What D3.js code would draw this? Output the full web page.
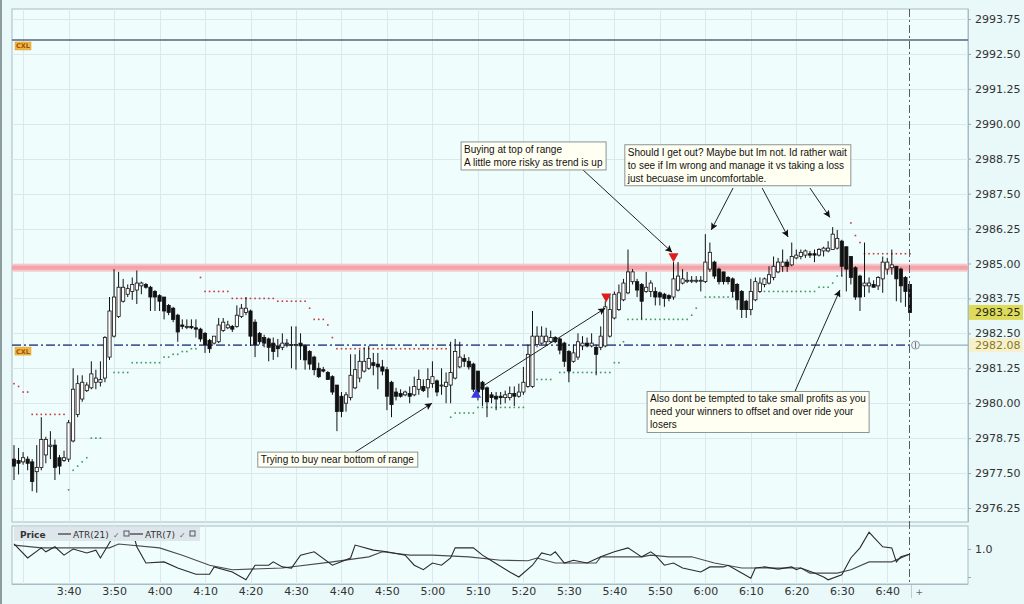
<!DOCTYPE html>
<html>
<head>
<meta charset="utf-8">
<script src="https://cdn.jsdelivr.net/npm/d3@7"></script>
<style>
  body { margin: 0; background: #e9f8f8; }
  svg { display: block; font-family: "DejaVu Sans", sans-serif; }
  .note text { font-family: "Liberation Sans", Arial, sans-serif; font-size: 10px; fill: #111; }
  .axis text { font-size: 11px; fill: #333; font-family: "DejaVu Sans", sans-serif; }
</style>
</head>
<body>
<svg id="chart" width="1024" height="604"></svg>
<script>
// one-minute bars starting 3:28
const startTime = new Date(2019, 4, 1, 3, 28);

// [open, high, low, close]
const candles = [
  [2978.0,2978.5,2977.25,2977.75],[2977.95,2978.4,2977.45,2977.85],[2977.9,2978.25,2977.8,2978.05],[2978.0,2978.1,2977.6,2977.85],
  [2977.9,2978.0,2976.85,2977.2],[2977.55,2978.5,2976.8,2977.7],[2977.7,2979.5,2977.6,2978.7],[2978.15,2978.8,2977.85,2978.7],
  [2978.45,2979.0,2978.0,2978.5],[2978.5,2978.7,2977.25,2977.7],[2978.05,2978.15,2977.45,2977.75],[2977.95,2978.3,2977.9,2978.05],
  [2978.0,2979.4,2977.9,2979.3],[2978.65,2981.25,2978.6,2980.5],[2979.6,2981.0,2979.5,2980.7],[2980.15,2981.0,2980.05,2980.75],
  [2980.45,2980.75,2980.4,2980.65],[2980.55,2981.5,2980.5,2981.05],[2980.75,2981.2,2980.5,2980.9],[2980.75,2981.5,2980.6,2980.85],
  [2980.9,2982.4,2980.75,2982.35],[2981.65,2983.8,2981.55,2983.3],[2982.4,2984.8,2982.35,2983.8],[2983.1,2984.7,2983.05,2984.15],
  [2983.65,2984.45,2983.6,2984.15],[2983.9,2984.25,2983.8,2984.1],[2984.0,2984.5,2983.7,2984.25],[2984.05,2984.75,2983.55,2984.3],
  [2984.2,2984.35,2983.9,2984.3],[2984.25,2984.3,2984.1,2984.15],[2984.15,2984.2,2983.3,2983.8],[2984.0,2984.05,2983.3,2983.8],
  [2983.85,2983.9,2983.3,2983.65],[2983.8,2983.8,2983.0,2983.3],[2983.5,2983.55,2983.15,2983.25],[2983.4,2983.45,2982.9,2983.0],
  [2983.15,2983.2,2982.2,2982.55],[2982.8,2983.0,2982.65,2982.75],[2982.75,2983.0,2982.65,2982.75],[2982.75,2983.0,2982.65,2982.7],
  [2982.7,2983.0,2982.35,2982.65],[2982.65,2982.7,2982.2,2982.3],[2982.5,2982.55,2981.8,2982.1],[2982.25,2982.3,2981.8,2981.95],
  [2982.15,2982.4,2982.1,2982.4],[2982.2,2983.05,2982.15,2982.8],[2982.6,2983.05,2982.55,2982.9],[2982.7,2982.95,2982.65,2982.8],
  [2982.75,2982.8,2982.55,2982.65],[2982.75,2983.5,2982.7,2983.15],[2983.1,2983.55,2983.05,2983.4],[2983.25,2983.8,2983.15,2983.4],
  [2983.3,2983.35,2982.05,2982.4],[2982.9,2983.0,2981.65,2982.1],[2982.5,2982.55,2982.1,2982.2],[2982.35,2982.45,2982.0,2982.15],
  [2982.3,2982.35,2981.5,2982.0],[2982.15,2982.35,2981.55,2981.85],[2982.05,2982.3,2981.65,2981.95],[2982.0,2982.5,2981.9,2982.15],
  [2982.15,2982.3,2982.0,2982.15],[2982.1,2982.75,2981.25,2982.1],[2982.1,2982.75,2981.2,2982.1],[2982.15,2982.5,2981.55,2982.05],
  [2982.05,2982.1,2981.2,2981.55],[2981.85,2981.9,2981.2,2981.4],[2981.65,2981.7,2981.0,2981.2],[2981.25,2981.45,2980.9,2980.95],
  [2981.2,2981.3,2981.1,2981.15],[2981.1,2981.15,2980.85,2980.85],[2980.95,2981.0,2980.3,2980.4],[2980.65,2980.65,2979.0,2979.7],
  [2980.25,2980.4,2979.5,2979.7],[2980.0,2980.4,2979.7,2980.3],[2980.2,2981.75,2980.1,2981.0],[2980.55,2981.75,2980.5,2981.2],
  [2980.9,2981.9,2980.75,2981.5],[2981.15,2982.0,2981.1,2981.5],[2981.25,2982.05,2981.2,2981.6],[2981.45,2981.8,2981.0,2981.35],
  [2981.4,2981.8,2980.5,2981.3],[2981.3,2981.55,2981.0,2981.15],[2981.2,2981.3,2979.75,2980.25],[2980.75,2980.8,2979.5,2979.95],
  [2980.4,2980.55,2980.1,2980.25],[2980.35,2980.5,2980.2,2980.25],[2980.3,2980.45,2980.25,2980.4],[2980.35,2980.6,2980.0,2980.25],
  [2980.3,2980.95,2980.25,2980.6],[2980.5,2981.2,2980.3,2980.85],[2980.6,2980.85,2980.4,2980.45],[2980.55,2981.25,2980.2,2980.85],
  [2980.7,2981.5,2980.55,2980.95],[2980.8,2980.85,2980.25,2980.4],[2980.65,2981.25,2980.3,2980.65],[2980.6,2981.1,2980.0,2980.75],
  [2980.65,2982.2,2980.0,2981.1],[2980.9,2982.3,2980.85,2981.85],[2981.3,2982.2,2981.25,2981.65],[2981.6,2981.75,2981.3,2981.5],
  [2981.5,2981.65,2981.2,2981.3],[2981.4,2981.45,2980.4,2980.5],[2981.15,2981.15,2980.1,2980.4],[2980.75,2980.8,2979.9,2980.5],
  [2980.55,2980.6,2979.5,2980.05],[2980.3,2980.4,2980.0,2980.2],[2980.25,2980.4,2979.75,2980.15],[2980.25,2980.4,2979.95,2980.2],
  [2980.2,2980.45,2980.0,2980.3],[2980.2,2980.6,2980.1,2980.35],[2980.35,2980.6,2979.9,2980.25],[2980.25,2980.7,2980.2,2980.4],
  [2980.4,2981.3,2980.3,2980.75],[2980.6,2982.1,2980.55,2981.75],[2980.6,2983.3,2980.55,2982.4],[2982.1,2982.75,2982.0,2982.4],
  [2982.15,2982.75,2982.1,2982.4],[2982.2,2982.7,2982.05,2982.4],[2982.2,2982.6,2982.15,2982.35],[2982.35,2982.4,2982.15,2982.2],
  [2982.3,2982.35,2981.75,2981.9],[2982.15,2982.2,2981.3,2981.5],[2981.85,2981.9,2980.75,2981.15],[2981.5,2982.1,2981.45,2981.8],
  [2981.65,2982.5,2981.55,2982.2],[2982.05,2982.4,2981.9,2982.15],[2982.15,2982.35,2982.0,2982.05],[2982.05,2982.5,2982.0,2982.15],
  [2982.0,2982.1,2981.0,2981.75],[2982.0,2982.75,2981.9,2982.4],[2982.05,2983.65,2982.0,2983.45],[2982.4,2983.9,2982.35,2983.35],
  [2983.05,2984.0,2983.0,2983.9],[2983.35,2984.25,2983.3,2983.95],[2983.7,2984.45,2983.65,2984.3],[2983.95,2985.5,2983.9,2984.7],
  [2984.35,2984.8,2984.25,2984.7],[2984.35,2984.45,2983.8,2984.05],[2984.25,2984.3,2983.0,2983.65],[2984.0,2984.7,2983.95,2984.15],
  [2984.0,2984.4,2983.8,2984.3],[2984.0,2984.15,2983.5,2983.8],[2983.95,2984.0,2983.5,2983.8],[2983.9,2983.95,2983.45,2983.75],
  [2983.85,2983.9,2983.65,2983.75],[2983.8,2985.05,2983.7,2984.45],[2984.05,2985.05,2984.0,2984.55],[2984.3,2984.8,2984.25,2984.45],
  [2984.4,2984.7,2984.3,2984.4],[2984.4,2984.55,2984.3,2984.4],[2984.4,2984.55,2984.3,2984.4],[2984.4,2984.55,2984.0,2984.4],
  [2984.35,2986.05,2984.3,2985.05],[2984.8,2985.75,2984.7,2985.4],[2985.05,2985.1,2984.45,2984.55],[2984.8,2984.85,2984.25,2984.35],
  [2984.7,2984.7,2984.25,2984.35],[2984.5,2984.55,2984.25,2984.35],[2984.45,2984.5,2983.8,2984.0],[2984.25,2984.3,2983.35,2983.7],
  [2984.0,2984.05,2983.05,2983.35],[2983.65,2983.7,2983.05,2983.35],[2983.35,2984.45,2983.15,2984.0],[2983.7,2984.5,2983.65,2984.35],
  [2984.0,2984.5,2983.95,2984.3],[2984.25,2984.5,2984.15,2984.45],[2984.3,2984.9,2984.25,2984.6],[2984.5,2985.25,2984.4,2984.9],
  [2984.7,2985.2,2984.65,2985.05],[2984.9,2985.5,2984.7,2985.05],[2985.05,2985.15,2984.7,2984.9],[2984.95,2985.75,2984.9,2985.25],
  [2985.2,2985.5,2985.15,2985.3],[2985.25,2985.5,2985.15,2985.4],[2985.3,2985.5,2985.2,2985.45],[2985.35,2985.45,2985.2,2985.3],
  [2985.35,2985.5,2985.05,2985.3],[2985.3,2985.55,2985.25,2985.5],[2985.45,2985.6,2985.25,2985.55],[2985.45,2985.8,2985.4,2985.55],
  [2985.5,2986.3,2985.5,2986.05],[2985.55,2986.2,2985.5,2985.9],[2985.8,2985.85,2984.55,2984.9],[2985.6,2985.6,2984.0,2984.8],
  [2985.25,2985.25,2984.25,2984.5],[2984.85,2984.9,2983.7,2983.8],[2984.55,2984.6,2983.3,2983.8],[2984.2,2985.75,2983.8,2984.3],
  [2984.2,2984.5,2983.95,2984.3],[2984.25,2984.4,2984.15,2984.15],[2984.2,2984.55,2984.05,2984.5],[2984.45,2985.25,2983.95,2985.05],
  [2984.8,2985.2,2984.6,2985.05],[2984.85,2985.5,2984.6,2984.95],[2984.9,2984.9,2983.65,2984.45],[2984.8,2984.85,2983.6,2984.2],
  [2984.5,2984.55,2983.45,2984.0],[2984.25,2984.25,2983.25,2983.25]
];

const priceTicks = [2993.75, 2992.5, 2991.25, 2990.0, 2988.75, 2987.5, 2986.25, 2985.0,
                    2983.75, 2982.5, 2981.25, 2980.0, 2978.75, 2977.5, 2976.25];
const timeTicks = ["3:40","3:50","4:00","4:10","4:20","4:30","4:40","4:50","5:00","5:10",
                   "5:20","5:30","5:40","5:50","6:00","6:10","6:20","6:30","6:40"];

const cxlLevel = 2993.0;
const resistLevel = 2984.85;
const entryLevel = 2982.08;
const lastPrice = 2983.25;

// trailing stop dots: [fromBar, toBar, price]
const redStops = [
  [0,0,2980.7],[1,1,2980.6],[2,3,2980.4],[4,11,2979.6],
  [41,41,2984.5],[42,47,2984.0],[48,57,2983.75],[58,64,2983.65],[65,65,2983.4],[66,68,2983.0],
  [69,69,2982.8],[70,70,2982.35],[71,95,2981.95],
  [184,184,2986.45],[185,185,2986.0],[186,186,2985.75],[187,197,2985.35]
];
const greenStops = [
  [12,12,2976.9],[13,13,2977.6],[14,14,2977.75],[15,15,2977.9],[16,16,2978.05],[17,19,2978.75],
  [22,25,2981.1],[26,32,2981.45],[33,34,2981.65],[35,36,2981.75],[37,38,2981.85],[39,40,2981.95],
  [96,96,2979.5],[97,101,2979.65],[102,112,2979.85],[113,118,2980.85],[120,131,2981.1],[132,133,2981.45],
  [134,134,2982.2],[135,148,2983.0],[149,149,2983.15],[150,150,2983.4],[152,159,2983.8],
  [163,176,2984.0],[177,179,2984.15],[180,180,2984.3],[181,182,2984.55]
];

// [bar, value]
const atr21 = [
  [0,1.07],[6,1.02],[21,1.02],[23,1.09],[32,1.02],[37,0.89],[43,0.71],[48,0.63],[59,0.66],[70,0.77],
  [78,0.86],[81,0.95],[87,0.89],[92,0.89],[100,0.86],[107,0.80],[113,0.79],[115,0.84],[119,0.75],
  [128,0.75],[129,0.86],[138,0.86],[140,0.89],[144,0.86],[149,0.86],[154,0.75],[160,0.66],[173,0.66],
  [175,0.57],[181,0.57],[184,0.63],[188,0.77],[193,0.77],[197,0.91]
];
const atr7 = [
  [0,1.09],[3,0.84],[6,1.02],[7,0.95],[9,1.04],[11,0.89],[13,1.0],[16,0.93],[18,0.98],[19,0.84],
  [21,1.11],[23,1.38],[26,1.34],[27,1.04],[29,0.75],[33,0.77],[36,0.66],[40,0.55],[43,0.55],[44,0.68],
  [48,0.59],[51,0.45],[53,0.71],[56,0.71],[57,0.77],[59,0.68],[61,0.66],[63,0.89],[66,0.95],[70,0.71],
  [74,0.84],[75,1.07],[79,0.98],[82,0.95],[86,0.89],[88,0.71],[90,0.63],[92,0.75],[94,0.71],[96,0.84],
  [97,1.02],[101,1.02],[103,0.89],[104,0.84],[109,0.59],[111,0.5],[114,0.71],[116,0.93],[118,0.89],
  [119,0.95],[121,0.75],[123,0.80],[126,0.75],[129,0.86],[132,0.95],[135,1.02],[138,0.86],[140,0.95],
  [141,0.89],[143,0.71],[145,0.75],[147,0.66],[151,0.59],[153,0.68],[156,0.68],[157,0.71],[160,0.57],
  [162,0.48],[163,0.66],[165,0.68],[168,0.64],[171,0.68],[172,0.63],[173,0.66],[176,0.57],[178,0.5],
  [179,0.45],[182,0.54],[184,0.84],[186,1.02],[188,1.30],[189,1.21],[191,1.04],[193,1.02],[194,0.77],
  [195,0.86],[197,0.91]
];

const buyMarks = [[101.6, 2980.34]];
const sellMarks = [[130.2, 2983.78], [145, 2985.22]];

// callout boxes: top-left corner at [bar, price]
const notes = [
  { lines: ["Trying to buy near bottom of range"], at: [53.6, 2978.25] },
  { lines: ["Buying at top of range", "A little more risky as trend is up"], at: [98.3, 2989.35] },
  { lines: ["Should I get out? Maybe but Im not. Id rather wait",
            "to see if Im wrong and manage it vs taking a loss",
            "just becuase im uncomfortable."], at: [134.3, 2989.25] },
  { lines: ["Also dont be tempted to take small profits as you",
            "need your winners to offset and over ride your",
            "losers"], at: [139.2, 2980.42] }
];
const arrows = [
  [[75.0, 2978.25], [91.9, 2980.0]],
  [[125.1, 2988.35], [144.7, 2985.4]],
  [[158.1, 2987.7], [153.3, 2986.2]],
  [[164.5, 2987.7], [170.2, 2985.95]],
  [[175.0, 2987.7], [179.4, 2986.65]],
  [[102.0, 2980.5], [130.0, 2983.4]],
  [[171.7, 2980.42], [181.6, 2984.05]]
];

// ---- layout
const L = 12, R = 968, T = 9, B = 522, LT = 526, LB = 584;
const svg = d3.select("#chart");
const t = i => new Date(startTime.getTime() + i * 60000);
const x = d3.scaleTime().domain([t(0), t(candles.length - 1)]).range([14, 910]);
const xb = i => x(t(i));
const y = d3.scaleLinear().domain([2993.75, 2976.25]).range([19, 508]);
const ya = d3.scaleLinear().domain([1.0, 0.5]).range([549, 577]);
const parseTick = s => { const [h, m] = s.split(":").map(Number); const d = new Date(startTime); d.setHours(h, m); return d; };

const defs = svg.append("defs");
defs.append("marker").attr("id", "ah").attr("viewBox", "0 0 10 10")
  .attr("refX", 10).attr("refY", 5).attr("markerWidth", 10).attr("markerHeight", 7)
  .attr("markerUnits", "userSpaceOnUse").attr("orient", "auto")
  .append("path").attr("d", "M0,0L10,5L0,10L2,5z").attr("fill", "#111");
defs.append("clipPath").attr("id", "plot").append("rect").attr("x", L).attr("y", T).attr("width", R - L).attr("height", B - T);
defs.append("clipPath").attr("id", "lower").append("rect").attr("x", L).attr("y", LT).attr("width", R - L).attr("height", LB - LT);

svg.append("rect").attr("width", 1024).attr("height", 604).attr("fill", "#e9f8f8");
svg.append("rect").attr("x", 0).attr("y", 0).attr("width", 2).attr("height", 604).attr("fill", "#8c9c9c");

// panels
svg.append("rect").attr("x", L).attr("y", T).attr("width", R - L).attr("height", B - T)
  .attr("fill", "#f0fdfd").attr("stroke", "#a9bcc4");
svg.append("rect").attr("x", L).attr("y", LT).attr("width", R - L).attr("height", LB - LT)
  .attr("fill", "#f0fdfd").attr("stroke", "#a9bcc4");

// grid
const gridTimes = d3.timeMinute.every(10).range(t(0), t(candles.length));
const grid = svg.append("g").attr("stroke", "#dbe8ee").attr("stroke-width", 1);
grid.selectAll("line.v").data(gridTimes).join("line").attr("class", "v")
  .attr("x1", d => Math.round(x(d)) + 0.5).attr("x2", d => Math.round(x(d)) + 0.5).attr("y1", T).attr("y2", B);
grid.selectAll("line.v2").data(gridTimes).join("line").attr("class", "v2")
  .attr("x1", d => Math.round(x(d)) + 0.5).attr("x2", d => Math.round(x(d)) + 0.5).attr("y1", LT).attr("y2", LB);
grid.selectAll("line.h").data(priceTicks).join("line").attr("class", "h")
  .attr("x1", L).attr("x2", R).attr("y1", d => Math.round(y(d)) + 0.5).attr("y2", d => Math.round(y(d)) + 0.5);

const plot = svg.append("g").attr("clip-path", "url(#plot)");

// resistance band
plot.append("rect").attr("x", L).attr("width", R - L).attr("y", y(resistLevel) - 4).attr("height", 8).attr("fill", "#f8c6ca");
plot.append("rect").attr("x", L).attr("width", R - L).attr("y", y(resistLevel) - 2).attr("height", 4).attr("fill", "#f2a4ab");

// CXL line
plot.append("line").attr("x1", L).attr("x2", R).attr("y1", y(cxlLevel)).attr("y2", y(cxlLevel))
  .attr("stroke", "#56667c").attr("stroke-width", 1.5);

// entry line
plot.append("line").attr("x1", L).attr("x2", xb(candles.length - 1) + 2).attr("y1", y(entryLevel)).attr("y2", y(entryLevel))
  .attr("stroke", "#4e5e96").attr("stroke-width", 1.6).attr("stroke-dasharray", "9,3,2,3");
plot.append("line").attr("x1", xb(candles.length - 1) + 10).attr("x2", R).attr("y1", y(entryLevel)).attr("y2", y(entryLevel))
  .attr("stroke", "#9aaac4").attr("stroke-width", 1.2);

[cxlLevel, entryLevel].forEach(lv => {
  const g = svg.append("g").attr("transform", `translate(15,${y(lv) + 2})`);
  g.append("rect").attr("width", 16).attr("height", 8).attr("fill", "#f0b840").attr("stroke", "#d8a030").attr("stroke-width", 0.5);
  g.append("text").attr("x", 8).attr("y", 6.5).attr("text-anchor", "middle").attr("font-size", 6.5)
    .attr("font-weight", "bold").attr("fill", "#a05010").text("CXL");
});

// stop dots
function expand(runs) {
  const out = [];
  runs.forEach(([a, b, p]) => { for (let i = a; i <= b; i++) out.push([i, p]); });
  return out;
}
plot.selectAll("rect.rs").data(expand(redStops)).join("rect").attr("class", "rs")
  .attr("x", d => xb(d[0]) - 0.8).attr("y", d => y(d[1]) - 0.8).attr("width", 1.6).attr("height", 1.6).attr("fill", "#c83a3a");
plot.selectAll("rect.gs").data(expand(greenStops)).join("rect").attr("class", "gs")
  .attr("x", d => xb(d[0]) - 0.8).attr("y", d => y(d[1]) - 0.8).attr("width", 1.6).attr("height", 1.6).attr("fill", "#3c9a5c");

// candles
const bw = 3.2;
const cg = plot.append("g");
cg.selectAll("line.wick").data(candles).join("line").attr("class", "wick")
  .attr("x1", (d, i) => xb(i)).attr("x2", (d, i) => xb(i))
  .attr("y1", d => y(d[1])).attr("y2", d => y(d[2]))
  .attr("stroke", "#111").attr("stroke-width", 1);
cg.selectAll("rect.body").data(candles).join("rect").attr("class", "body")
  .attr("x", (d, i) => xb(i) - bw / 2)
  .attr("y", d => y(Math.max(d[0], d[3])))
  .attr("width", bw)
  .attr("height", d => Math.max(1, Math.abs(y(d[0]) - y(d[3]))))
  .attr("fill", d => d[3] >= d[0] ? "#fff" : "#111")
  .attr("stroke", "#111").attr("stroke-width", 0.8);

// trade markers
plot.selectAll("path.buy").data(buyMarks).join("path").attr("class", "buy")
  .attr("transform", d => `translate(${xb(d[0])},${y(d[1])})`)
  .attr("d", "M0,-5L5,4L-5,4z").attr("fill", "#3a3ae0");
plot.selectAll("path.sell").data(sellMarks).join("path").attr("class", "sell")
  .attr("transform", d => `translate(${xb(d[0])},${y(d[1])})`)
  .attr("d", "M-5,-4L5,-4L0,5z").attr("fill", "#e01c1c");

// callouts
const ng = svg.append("g").attr("class", "note");
ng.selectAll("line.arrow").data(arrows).join("line").attr("class", "arrow")
  .attr("x1", d => xb(d[0][0])).attr("y1", d => y(d[0][1]))
  .attr("x2", d => xb(d[1][0])).attr("y2", d => y(d[1][1]))
  .attr("stroke", "#222").attr("stroke-width", 1).attr("marker-end", "url(#ah)");
notes.forEach(n => {
  const g = ng.append("g").attr("transform", `translate(${xb(n.at[0])},${y(n.at[1])})`);
  const box = g.append("rect").attr("fill", "#fffff2").attr("stroke", "#8a9494").attr("stroke-width", 1);
  const txt = g.selectAll("text").data(n.lines).join("text")
    .attr("x", 3).attr("y", (d, k) => 11 + k * 13).text(d => d);
  let w = 0;
  txt.each(function () { w = Math.max(w, this.getComputedTextLength()); });
  box.attr("width", Math.ceil(w) + 6).attr("height", n.lines.length * 13 + 2);
});

// current bar line
const curX = Math.round(xb(candles.length - 1)) - 0.5;
svg.append("line").attr("x1", curX).attr("x2", curX).attr("y1", T).attr("y2", LB)
  .attr("stroke", "#555c66").attr("stroke-width", 1).attr("stroke-dasharray", "8,3,2,3");
svg.append("circle").attr("cx", curX + 6).attr("cy", y(entryLevel)).attr("r", 4)
  .attr("fill", "#eef2f2").attr("stroke", "#8a96a0").attr("stroke-width", 1);
svg.append("line").attr("x1", curX + 6).attr("x2", curX + 6).attr("y1", y(entryLevel) - 3).attr("y2", y(entryLevel) + 3)
  .attr("stroke", "#6a7680").attr("stroke-width", 1);

// price axis
svg.append("line").attr("x1", R + 0.5).attr("x2", R + 0.5).attr("y1", T).attr("y2", B).attr("stroke", "#a9bcc4");
const ay = svg.append("g").attr("class", "axis").attr("transform", `translate(${R},0)`)
  .call(d3.axisRight(y).tickValues(priceTicks).tickFormat(d3.format(".2f")).tickSize(3).tickPadding(4));
ay.select(".domain").remove();
ay.selectAll(".tick line").attr("stroke", "#9aacb4");

// price labels on axis
svg.append("rect").attr("x", R + 1).attr("y", y(entryLevel) - 7).attr("width", 54).attr("height", 14).attr("fill", "#f4f1cc");
svg.append("text").attr("x", R + 7).attr("y", y(entryLevel)).attr("dy", "0.35em").attr("font-size", 11)
  .attr("fill", "#8a7826").text(entryLevel.toFixed(2));
svg.append("rect").attr("x", R + 1).attr("y", y(lastPrice) - 7.5).attr("width", 54).attr("height", 15).attr("fill", "#dedb5a");
svg.append("text").attr("x", R + 7).attr("y", y(lastPrice)).attr("dy", "0.35em").attr("font-size", 11)
  .attr("fill", "#2a2a10").text(lastPrice.toFixed(2));

// lower ATR panel
const lower = svg.append("g").attr("clip-path", "url(#lower)");
const line = d3.line().x(d => xb(d[0])).y(d => ya(d[1]));
lower.append("path").datum(atr21).attr("d", line).attr("fill", "none").attr("stroke", "#4a4a4a").attr("stroke-width", 1.1);
lower.append("path").datum(atr7).attr("d", line).attr("fill", "none").attr("stroke", "#2a2a2a").attr("stroke-width", 1.1);

const aa = svg.append("g").attr("class", "axis").attr("transform", `translate(${R},0)`)
  .call(d3.axisRight(ya).tickValues([1.0, 0.5]).tickFormat(v => v === 1 ? "1.0" : "").tickSize(3).tickPadding(4));
aa.select(".domain").remove();
aa.selectAll(".tick line").attr("stroke", "#9aacb4");

// legend
const lg = svg.append("g").attr("font-size", 9).attr("fill", "#333");
lg.append("rect").attr("x", 14).attr("y", 527).attr("width", 186).attr("height", 14).attr("fill", "#dde6ea");
lg.append("text").attr("x", 20).attr("y", 537.5).attr("font-weight", "bold").text("Price");
[[58, "ATR(21)", 73, 113, 124], [130, "ATR(7)", 145, 179, 190]].forEach(([lx, name, tx, cx, ix]) => {
  lg.append("line").attr("x1", lx).attr("x2", lx + 13).attr("y1", 534).attr("y2", 534).attr("stroke", "#333").attr("stroke-width", 1.2);
  lg.append("text").attr("x", tx).attr("y", 537.5).text(name);
  lg.append("text").attr("x", cx).attr("y", 537.5).attr("font-size", 8).attr("fill", "#667").text("✓");
  lg.append("rect").attr("x", ix).attr("y", 531).attr("width", 5).attr("height", 5).attr("fill", "none").attr("stroke", "#556");
});

// time axis
const ax = svg.append("g").attr("class", "axis").attr("transform", `translate(0,${LB})`)
  .call(d3.axisBottom(x).tickValues(timeTicks.map(parseTick)).tickFormat(d3.timeFormat("%-I:%M")).tickSize(0).tickPadding(3));
ax.select(".domain").attr("stroke", "#a9bcc4").attr("d", `M${L},0.5H${R}`);
svg.append("line").attr("x1", curX + 2).attr("x2", curX + 2).attr("y1", LB + 1).attr("y2", LB + 14).attr("stroke", "#c0ccd2");
svg.append("text").attr("x", curX + 6).attr("y", LB + 11).attr("font-size", 9).attr("fill", "#667").text("+");
</script>
</body>
</html>
